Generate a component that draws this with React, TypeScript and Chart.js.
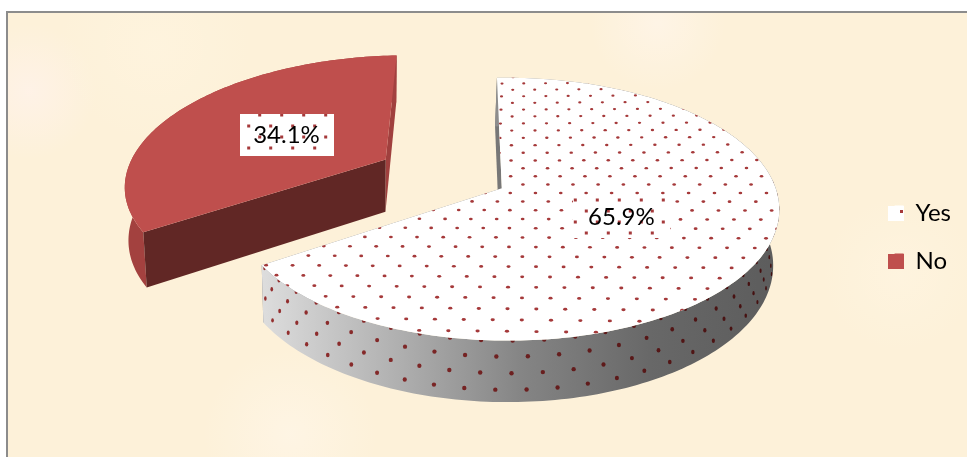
import React, { useEffect, useRef } from "react";
import { ArcElement, Chart, Legend, PieController } from "chart.js";

// Survey shares
const categories = ["Yes", "No"];
const shares = [65.9, 34.1];

// Per-slice styling
const topColors = ["#ffffff", "#bf4f4d"];
const explode = [0, 0.51];
const sliceScale = [1, 1.02];
const startFaceColors = ["#777777", "#612725"];
const endFaceColors = ["#777777", "#a0403e"];
const startFaceInFront = [false, true];
const wallStops: string[][] = [
  ["#dddddd", "#b2b2b2", "#858585", "#686868", "#5c5c5c"],
  ["#a3413f", "#a3413f"],
];
const dotted = [true, false];

// Camera model, expressed as fractions of the pie radius
const PERSPECTIVE = 0.16;
const SIDE_TILT = 0.02;
const WIDTH_RATIO = 1.22;
const HEIGHT_RATIO = 0.582;
const CENTER_LIFT = 0.222;
const DEPTH = 0.246;
const FLOOR_SCALE = 0.985;
const FLOOR_DRIFT = 0.009;

// Dot lattice on the top surface (disc units) and on the rim
const ROW_STEP = 0.0651;
const ROW_PHASE = 0.0367;
const COL_STEP = 0.093;
const RIM_STEP = 0.099;
const RIM_ROWS = [0, 0.26, 0.53, 0.8];

const FONT = "Lato, Carlito, sans-serif";
const DOT = "#a5393a";

type Pt = { x: number; y: number; k: number };

function camera(el: { x: number; y: number }, R: number) {
  const cx = el.x;
  const cy = el.y - CENTER_LIFT * R;
  const top = (u: number, v: number): Pt => {
    const k = 1 / (1 - PERSPECTIVE * v - SIDE_TILT * u);
    return { x: cx + WIDTH_RATIO * R * u * k, y: cy + HEIGHT_RATIO * R * v * k, k };
  };
  const at = (u: number, v: number, t: number): Pt => {
    const p = top(u, v);
    const fx = cx + (p.x - cx) * FLOOR_SCALE - FLOOR_DRIFT * R;
    const fy = p.y + DEPTH * R * Math.pow(p.k, 0.73);
    return { x: p.x + (fx - p.x) * t, y: p.y + (fy - p.y) * t, k: p.k };
  };
  return { top, at };
}

function trace(ctx: CanvasRenderingContext2D, pts: Pt[]) {
  ctx.beginPath();
  pts.forEach((p, i) => (i ? ctx.lineTo(p.x, p.y) : ctx.moveTo(p.x, p.y)));
  ctx.closePath();
}

// Pie slice drawn as an exploded solid wedge seen from above
class Arc3D extends ArcElement {
  static id = "arc3d";

  draw(ctx: CanvasRenderingContext2D) {
    const { x, y, startAngle, endAngle, outerRadius: R } = this.getProps(
      ["x", "y", "startAngle", "endAngle", "outerRadius"],
      true
    ) as any;
    const i = (this as any).$context.dataIndex as number;
    const { top, at } = camera({ x, y }, R);
    const mid = (startAngle + endAngle) / 2;
    const ou = Math.cos(mid) * explode[i];
    const ov = Math.sin(mid) * explode[i];
    const steps = Math.ceil((endAngle - startAngle) / 0.02);
    const angles = Array.from({ length: steps + 1 }, (_, n) => startAngle + ((endAngle - startAngle) * n) / steps);
    const uv = (a: number): [number, number] => [
      ou + sliceScale[i] * Math.cos(a),
      ov + sliceScale[i] * Math.sin(a),
    ];

    const apexTop = top(ou, ov);
    const apexFloor = at(ou, ov, 1);
    const rimTop = angles.map((a) => top(...uv(a)));
    const rimFloor = angles.map((a) => at(...uv(a), 1));
    const n = angles.length - 1;

    const drawStartFace = () => {
      ctx.fillStyle = startFaceColors[i];
      trace(ctx, [apexTop, rimTop[0], rimFloor[0], apexFloor]);
      ctx.fill();
    };

    ctx.save();

    ctx.fillStyle = endFaceColors[i];
    trace(ctx, [apexTop, rimTop[n], rimFloor[n], apexFloor]);
    ctx.fill();
    if (!startFaceInFront[i]) drawStartFace();

    // Outer rim
    const xs = rimTop.map((p) => p.x);
    const left = Math.min(...xs);
    const right = Math.max(...xs);
    const stops = wallStops[i];
    const grad = ctx.createLinearGradient(left, 0, right, 0);
    stops.forEach((c, s) => grad.addColorStop(s / (stops.length - 1), c));
    const wall = [...rimTop, ...[...rimFloor].reverse()];
    ctx.fillStyle = grad;
    trace(ctx, wall);
    ctx.fill();

    if (dotted[i]) {
      ctx.save();
      trace(ctx, wall);
      ctx.clip();
      RIM_ROWS.forEach((t, row) => {
        const phase = row % 2 ? -0.0155 : -0.0155 + RIM_STEP / 2;
        for (let m = -24; m <= 24; m++) {
          // angle measured from the point of the rim nearest the viewer
          const phi = phase + m * RIM_STEP;
          const a = Math.PI / 2 - phi;
          const u = Math.cos(a);
          const v = Math.sin(a);
          if (v < -0.1 || a < startAngle || a > endAngle) continue;
          const p = at(u, v, t);
          const f = Math.min(1, Math.max(0, (p.x - left) / (right - left)));
          ctx.fillStyle = `rgb(${Math.round(150 - 85 * f)},${Math.round(48 - 33 * f)},${Math.round(48 - 33 * f)})`;
          ctx.beginPath();
          ctx.ellipse(p.x, p.y, Math.max(0.8, 2.2 * Math.abs(Math.cos(phi))), 2.2, 0, 0, 2 * Math.PI);
          ctx.fill();
        }
      });
      ctx.restore();
    }

    if (startFaceInFront[i]) drawStartFace();

    // Top surface
    const surface = [apexTop, ...rimTop];
    ctx.fillStyle = this.options.backgroundColor as string;
    trace(ctx, surface);
    ctx.fill();

    if (dotted[i]) {
      ctx.save();
      trace(ctx, surface);
      ctx.clip();
      ctx.fillStyle = DOT;
      for (let r = -17; r <= 17; r++) {
        const v = ROW_PHASE + r * ROW_STEP;
        const shear = -0.0145 - 0.0165 * v + (r % 2 === 0 ? COL_STEP / 2 : 0);
        for (let c = -13; c <= 13; c++) {
          const p = top(shear + c * COL_STEP, v);
          ctx.beginPath();
          ctx.ellipse(p.x, p.y, 1.8 * p.k, 1.25 * p.k, 0, 0, 2 * Math.PI);
          ctx.fill();
        }
      }
      ctx.restore();
    }

    ctx.restore();
  }
}

class Pie3DController extends PieController {
  static id = "pie3d";
  static defaults = { dataElementType: "arc3d" };
}

const labelPlate = [
  { w: 97, h: 41, dots: [2.3, 3] },
  { w: 94, h: 42, dots: [19.7, 1] },
];
const labelReach = [0.48, 0.475];
const SWATCH_EXTRA = 6;

// Percentage labels on dotted white plates
const sliceLabels = {
  id: "sliceLabels",
  afterDatasetsDraw(chart: Chart) {
    const { ctx } = chart;
    chart.getDatasetMeta(0).data.forEach((el: any, i: number) => {
      const R = el.outerRadius;
      const { top } = camera(el, R);
      const mid = (el.startAngle + el.endAngle) / 2;
      const reach = explode[i] + labelReach[i];
      const c = top(Math.cos(mid) * reach, Math.sin(mid) * reach);
      const { w, h, dots } = labelPlate[i];
      const left = Math.round(c.x - w / 2);
      const topY = Math.round(c.y - h / 2);
      ctx.save();
      ctx.fillStyle = "#ffffff";
      ctx.fillRect(left, topY, w, h);
      ctx.beginPath();
      ctx.rect(left, topY, w, h);
      ctx.clip();
      ctx.fillStyle = DOT;
      for (let row = 0; row < 4; row++) {
        const yy = topY + dots[1] + row * 11;
        const shift = row % 2 ? (dots[0] > 11 ? -11 : 11) : 0;
        for (let col = -1; col < 6; col++) {
          ctx.fillRect(left + dots[0] + shift + col * 22 - 1.5, yy - 1.5, 3, 3);
        }
      }
      ctx.fillStyle = "#000000";
      ctx.font = `24px ${FONT}`;
      ctx.textAlign = "center";
      ctx.textBaseline = "middle";
      ctx.fillText(`${shares[i].toFixed(1)}%`, c.x, c.y);
      ctx.restore();
    });
  },
  afterDraw(chart: Chart) {
    // Widen the swatches towards the left so the text sits close to them;
    // the "Yes" swatch also carries one dot of the slice's pattern
    const { ctx } = chart;
    const boxes = (chart.legend as any).legendHitBoxes;
    boxes.forEach((box: any, i: number) => {
      const l = Math.floor(box.left - SWATCH_EXTRA);
      const r = Math.ceil(box.left + 9);
      const t = Math.round(box.top + (box.height - 15) / 2);
      ctx.fillStyle = topColors[i];
      ctx.fillRect(l, t, r - l, 15);
      if (i === 0) {
        ctx.fillStyle = DOT;
        ctx.fillRect(r - 4, t + 4, 3, 3);
      }
    });
  },
};

const blotches = [
  [0.03, 0.2, 0.07, "rgba(255,242,234,0.8)"],
  [0.3, 0.95, 0.09, "rgba(255,247,235,0.6)"],
  [0.68, 0.05, 0.07, "rgba(255,246,238,0.6)"],
  [0.16, 0.1, 0.1, "rgba(255,246,226,0.5)"],
  [0.93, 0.6, 0.08, "rgba(255,246,228,0.5)"],
] as const;

// Parchment backdrop with a thin grey frame along the top and left
const parchment = {
  id: "parchment",
  beforeDraw(chart: Chart) {
    const { ctx, width, height } = chart;
    ctx.save();
    ctx.fillStyle = "#ffffff";
    ctx.fillRect(0, 0, width, height);
    ctx.fillStyle = "#fdf1d9";
    ctx.fillRect(8, 13, width - 8, height - 13);
    ctx.beginPath();
    ctx.rect(8, 13, width - 8, height - 13);
    ctx.clip();
    blotches.forEach(([fx, fy, fr, color]) => {
      const gx = fx * width;
      const gy = fy * height;
      const gr = fr * width;
      const g = ctx.createRadialGradient(gx, gy, 0, gx, gy, gr);
      g.addColorStop(0, color);
      g.addColorStop(1, color.replace(/[\d.]+\)$/, "0)"));
      ctx.fillStyle = g;
      ctx.fillRect(gx - gr, gy - gr, 2 * gr, 2 * gr);
    });
    ctx.restore();
    ctx.fillStyle = "#8c8c8c";
    ctx.fillRect(6, 11, width - 6, 2);
    ctx.fillRect(6, 11, 2, height - 11);
  },
};

Chart.register(Pie3DController, Arc3D, Legend);

export default function App() {
  const ref = useRef<HTMLCanvasElement>(null);
  useEffect(() => {
    const chart = new Chart(ref.current as HTMLCanvasElement, {
      type: "pie3d" as any,
      data: {
        labels: categories,
        datasets: [{ data: shares, backgroundColor: topColors, borderWidth: 0 }],
      },
      options: {
        responsive: false,
        animation: false,
        rotation: -1.2,
        layout: { padding: { left: 133, top: 17, right: 6, bottom: 0 } },
        plugins: {
          tooltip: { enabled: false },
          legend: {
            position: "right",
            labels: {
              boxWidth: 9,
              boxHeight: 15,
              padding: 24,
              color: "#000000",
              font: { family: FONT, size: 24 },
            },
          },
        },
      } as any,
      plugins: [parchment, sliceLabels],
    });
    return () => chart.destroy();
  }, []);
  return (
    <div style={{ position: "absolute", left: 0, top: 0, width: 967, height: 457 }}>
      <canvas ref={ref} width={967} height={457} style={{ display: "block" }} />
    </div>
  );
}
